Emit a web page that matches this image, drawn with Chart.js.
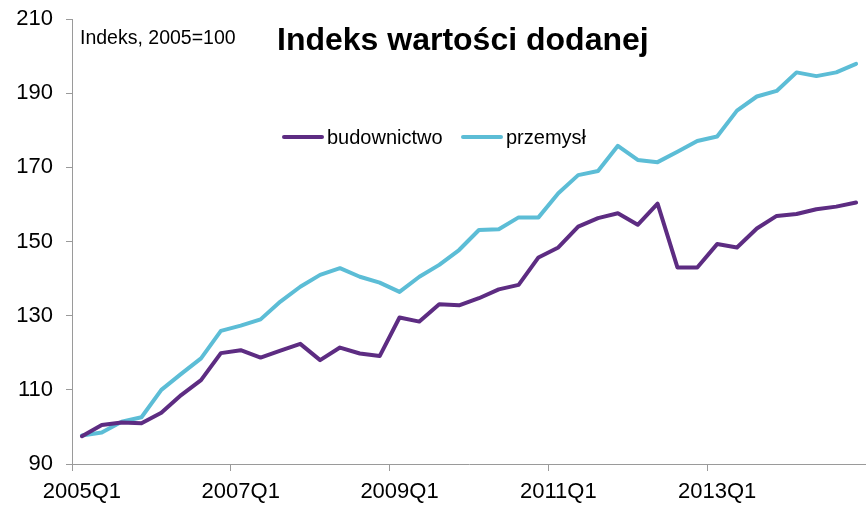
<!DOCTYPE html>
<html>
<head>
<meta charset="utf-8">
<script src="https://cdn.jsdelivr.net/npm/chart.js@4"></script>
<style>
html,body{margin:0;padding:0;background:#fff;}
#wrap{width:866px;height:505px;}
</style>
</head>
<body>
<div id="wrap"><canvas id="c" width="866" height="505"></canvas></div>
<script>
const quarters = [
  "2005Q1","2005Q2","2005Q3","2005Q4","2006Q1","2006Q2","2006Q3","2006Q4",
  "2007Q1","2007Q2","2007Q3","2007Q4","2008Q1","2008Q2","2008Q3","2008Q4",
  "2009Q1","2009Q2","2009Q3","2009Q4","2010Q1","2010Q2","2010Q3","2010Q4",
  "2011Q1","2011Q2","2011Q3","2011Q4","2012Q1","2012Q2","2012Q3","2012Q4",
  "2013Q1","2013Q2","2013Q3","2013Q4","2014Q1","2014Q2","2014Q3","2014Q4"
];
const budownictwo = [
  97.5,100.5,101.2,101.0,103.8,108.6,112.6,119.9,
  120.7,118.7,120.6,122.4,118.0,121.4,119.8,119.1,
  129.5,128.4,133.1,132.8,134.7,137.1,138.3,145.7,
  148.4,154.0,156.3,157.6,154.5,160.2,143.0,143.0,
  149.3,148.4,153.5,156.9,157.4,158.7,159.4,160.5
];
const przemysl = [
  97.7,98.5,101.4,102.6,110.0,114.3,118.5,125.9,
  127.3,129.0,133.8,137.8,141.0,142.8,140.5,138.9,
  136.4,140.5,143.7,147.7,153.1,153.3,156.5,156.5,
  163.0,167.9,169.0,175.8,172.0,171.4,174.2,177.1,
  178.3,185.3,189.1,190.6,195.6,194.6,195.6,197.9
];
const seriesNames = ["budownictwo","przemysł"];
const titleText = "Indeks wartości dodanej";
const subtitleText = "Indeks, 2005=100";
const yTicks = [90,110,130,150,170,190,210];

const FONT = "'Liberation Sans', Arial, sans-serif";
const PURPLE = "#5D2C82";
const CYAN = "#5CBDD6";
const AXIS = "#9a9a9a";

const overlay = {
  id: 'overlay',
  afterDraw(chart) {
    const ctx = chart.ctx;
    ctx.save();
    ctx.fillStyle = '#000';
    ctx.textBaseline = 'alphabetic';
    ctx.textAlign = 'left';
    ctx.font = "19.5px " + FONT;
    ctx.fillText(subtitleText, 80, 44);
    ctx.font = "bold 32px " + FONT;
    ctx.fillText(titleText, 277, 50);
    // legend
    const items = [{x: 283}, {x: 462}];
    chart.data.datasets.forEach((ds, i) => {
      const x = items[i].x;
      ctx.strokeStyle = ds.borderColor;
      ctx.lineWidth = 4;
      ctx.lineCap = 'round';
      ctx.beginPath();
      ctx.moveTo(x + 1, 137);
      ctx.lineTo(x + 39, 137);
      ctx.stroke();
      ctx.fillStyle = '#000';
      ctx.font = "20px " + FONT;
      ctx.fillText(ds.label, x + 44, 143.5);
    });
    ctx.restore();
  }
};

new Chart(document.getElementById('c'), {
  type: 'line',
  data: {
    labels: quarters,
    datasets: [
      {label: seriesNames[0], data: budownictwo, borderColor: PURPLE, backgroundColor: PURPLE,
       borderWidth: 4, pointRadius: 0, tension: 0, borderJoinStyle: 'round', borderCapStyle: 'round'},
      {label: seriesNames[1], data: przemysl, borderColor: CYAN, backgroundColor: CYAN,
       borderWidth: 4, pointRadius: 0, tension: 0, borderJoinStyle: 'round', borderCapStyle: 'round'}
    ]
  },
  options: {
    responsive: false,
    animation: false,
    layout: {padding: {top: 19, left: 0, right: -4, bottom: 0}},
    plugins: {legend: {display: false}, tooltip: {enabled: false}, title: {display: false}},
    scales: {
      x: {
        type: 'category',
        offset: true,
        grid: {
          offset: true,
          drawOnChartArea: false,
          drawTicks: true,
          tickLength: 7,
          tickColor: (c) => (c.index % 8 === 0 ? AXIS : 'rgba(0,0,0,0)'),
          color: AXIS
        },
        border: {display: true, color: AXIS, width: 1},
        ticks: {
          autoSkip: false,
          maxRotation: 0,
          minRotation: 0,
          padding: 8,
          color: '#000',
          font: {size: 22, family: FONT},
          callback: function(val, idx) { return idx % 8 === 0 ? quarters[idx] : ''; }
        },
        afterFit(s) { s.height = 41; s.paddingRight = -4; }
      },
      y: {
        type: 'linear',
        min: 90,
        max: 210,
        afterBuildTicks(s) { s.ticks = yTicks.map(v => ({value: v})); },
        grid: {drawOnChartArea: false, drawTicks: true, tickLength: 6, color: AXIS},
        border: {display: true, color: AXIS, width: 1},
        ticks: {padding: 13, color: '#000', font: {size: 22, family: FONT}},
        afterFit(s) { s.width = 72; s.paddingTop = 0; s.paddingBottom = 0; s.paddingRight = -4; }
      }
    }
  },
  plugins: [overlay]
});
</script>
</body>
</html>
